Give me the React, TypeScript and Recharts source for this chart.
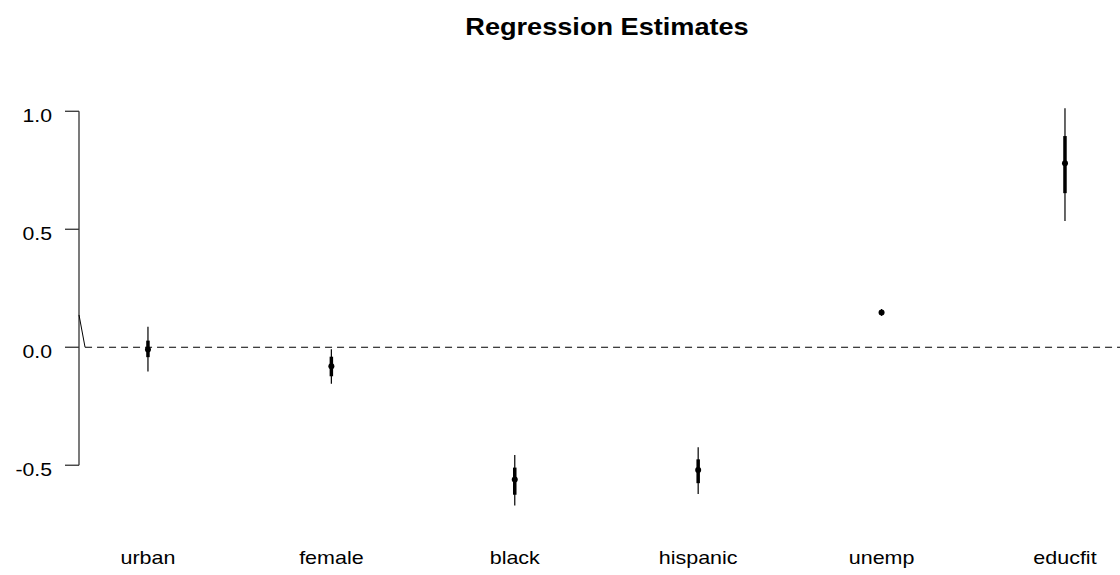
import React from 'react';
import { ComposedChart, Scatter, XAxis, YAxis, ErrorBar, ReferenceLine } from 'recharts';

const categories = ['urban', 'female', 'black', 'hispanic', 'unemp', 'educfit'];
const estimates = [-0.01, -0.08, -0.56, -0.52, 0.147, 0.78];
const lo95 = [-0.103, -0.155, -0.671, -0.622, 0.133, 0.535];
const hi95 = [0.087, -0.008, -0.457, -0.424, 0.162, 1.013];
const lo68 = [-0.042, -0.123, -0.625, -0.576, 0.14, 0.653];
const hi68 = [0.028, -0.04, -0.51, -0.475, 0.154, 0.895];
const yTicks = [-0.5, 0, 0.5, 1.0];
const xMin = 0.624;
const xMax = 6.3;
const yMin = -0.738;
const yMax = 1.08;
const zeroLineStart = 0.657;
const stubLine = [
  { x: 0.624, y: 0.137 },
  { x: 0.657, y: 0 },
];

const data = categories.map((c, i) => ({
  x: i + 1,
  name: c,
  y: estimates[i],
  e95: [estimates[i] - lo95[i], hi95[i] - estimates[i]],
  e68: [estimates[i] - lo68[i], hi68[i] - estimates[i]],
}));

const FONT = '"Liberation Sans", Arial, Helvetica, sans-serif';

const YTick = (props: any) => {
  const { x, y, payload } = props;
  return (
    <text
      transform={`translate(${x},${y + 11}) scale(1.2,1)`}
      textAnchor="end"
      fontSize={17.7}
      fontFamily={FONT}
      fill="#000"
    >
      {Number(payload.value).toFixed(1)}
    </text>
  );
};

const XTick = (props: any) => {
  const { x, y, payload } = props;
  const label = categories[Math.round(payload.value) - 1] ?? '';
  return (
    <text
      transform={`translate(${x},${y + 43}) scale(1.2,1)`}
      textAnchor="middle"
      fontSize={17.9}
      fontFamily={FONT}
      fill="#000"
    >
      {label}
    </text>
  );
};

const Dot = (props: any) => <circle cx={props.cx} cy={props.cy} r={3} fill="#000" />;

export default function App() {
  return (
    <div style={{ position: 'absolute', left: 0, top: 0, width: 1120, height: 575, background: '#fff' }}>
      <svg width={1120} height={60} style={{ position: 'absolute', left: 0, top: 0 }}>
        <text
          transform="translate(607,35) scale(1.18,1)"
          textAnchor="middle"
          fontSize={23}
          fontWeight="bold"
          fontFamily={FONT}
          fill="#000"
        >
          Regression Estimates
        </text>
      </svg>
      <div style={{ position: 'absolute', left: 0, top: 0 }}>
        <ComposedChart
          width={1120}
          height={575}
          data={data}
          margin={{ top: 92.4, right: 0, left: 0, bottom: 0 }}
        >
          <XAxis
            type="number"
            dataKey="x"
            domain={[xMin, xMax]}
            allowDataOverflow
            ticks={[1, 2, 3, 4, 5, 6]}
            interval={0}
            tickLine={false}
            axisLine={false}
            tickSize={0}
            tickMargin={0}
            height={53.6}
            tick={<XTick />}
          />
          <YAxis
            type="number"
            domain={[yMin, yMax]}
            allowDataOverflow
            ticks={yTicks}
            interval={0}
            width={79}
            axisLine={false}
            tickLine={{ stroke: '#333', strokeWidth: 1.3 }}
            tickSize={14}
            tickMargin={13}
            tick={<YTick />}
          />
          <ReferenceLine
            segment={[{ x: xMin, y: -0.5 }, { x: xMin, y: 1.0 }]}
            stroke="#333"
            strokeWidth={1.3}
            ifOverflow="visible"
          />
          <ReferenceLine
            segment={stubLine}
            stroke="#000"
            strokeWidth={1}
            ifOverflow="visible"
          />
          <ReferenceLine
            segment={[{ x: zeroLineStart, y: 0 }, { x: xMax, y: 0 }]}
            stroke="#000"
            strokeDasharray="7 5"
            strokeWidth={1}
            ifOverflow="visible"
          />
          <Scatter dataKey="y" shape={<Dot />} isAnimationActive={false}>
            <ErrorBar dataKey="e95" direction="y" width={0} stroke="#000" strokeWidth={1.2} isAnimationActive={false} />
            <ErrorBar dataKey="e68" direction="y" width={0} stroke="#000" strokeWidth={3.5} isAnimationActive={false} />
          </Scatter>
        </ComposedChart>
      </div>
    </div>
  );
}
